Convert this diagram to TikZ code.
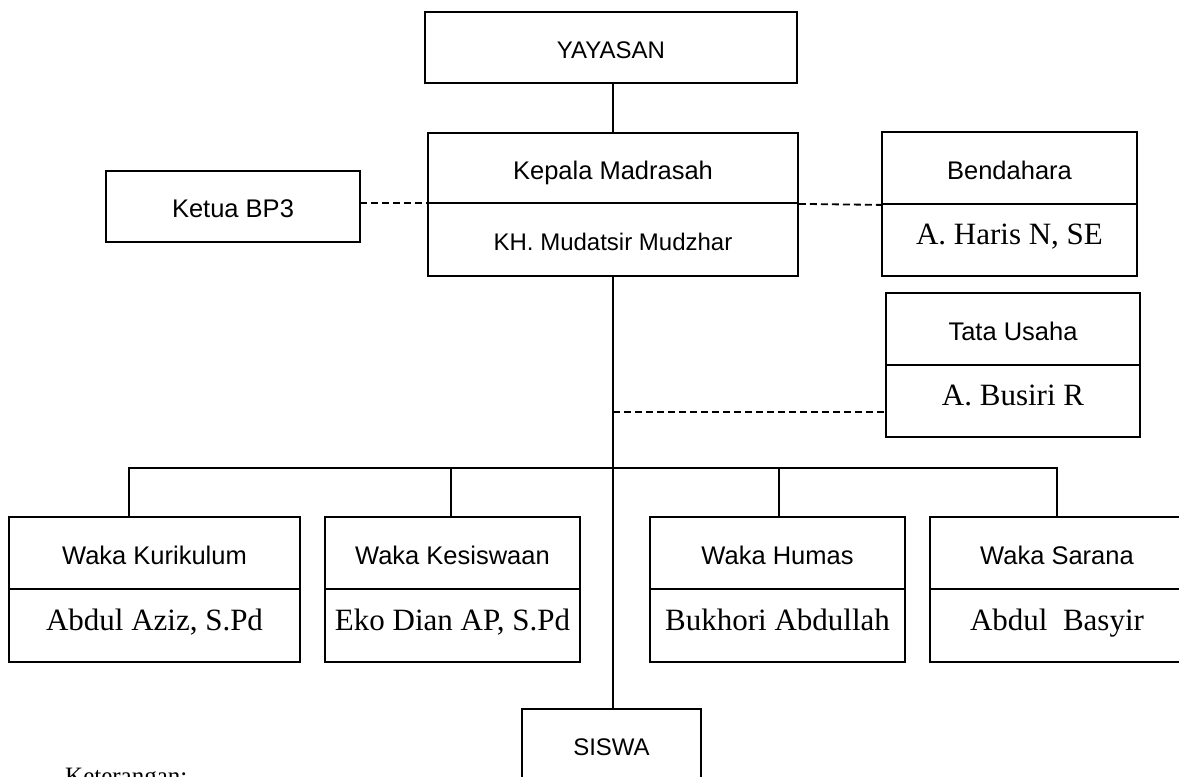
\documentclass[tikz,border=0pt]{standalone}
\usepackage{fontspec}
\setmainfont{Liberation Serif}
\setsansfont{Liberation Sans}
\begin{document}
\begin{tikzpicture}[x=1pt,y=-1pt,
  box/.style={draw=black,line width=1.8pt,rectangle,inner sep=0pt,align=center},
  lab/.style={box,font=\sffamily\fontsize{25.5}{28}\selectfont,text height=22pt,text depth=0pt},
  labs/.style={lab,font=\sffamily\fontsize{24}{27}\selectfont},
  nam/.style={box,font=\rmfamily\fontsize{31}{34}\selectfont,text height=9pt,text depth=0pt},
  conn/.style={line width=1.8pt,black},
  dsh/.style={line width=1.8pt,black,dash pattern=on 7pt off 4pt}]
\useasboundingbox (0,0) rectangle (1179,777);
\clip (0,0) rectangle (1179,777);
\fill[white] (0,0) rectangle (1179,777);

% top
\node[labs,minimum width=372pt,minimum height=71pt] (yay) at (611,47.5) {YAYASAN};
\node[lab,minimum width=370pt,minimum height=70pt] (kepTop) at (613,168) {Kepala Madrasah};
\node[labs,minimum width=370pt,minimum height=73pt,text height=21pt] (kepBot) at (613,239.5) {KH. Mudatsir Mudzhar};
\node[lab,minimum width=254pt,minimum height=71pt] (ketua) at (233,206.5) {Ketua BP3};
\node[lab,minimum width=255pt,minimum height=72pt] (bendTop) at (1009.5,168) {Bendahara};
\node[nam,minimum width=255pt,minimum height=72pt] (bendBot) at (1009.5,240) {A. Haris N, SE};
\node[lab,minimum width=254pt,minimum height=72pt] (tataTop) at (1013,329) {Tata Usaha};
\node[nam,minimum width=254pt,minimum height=72pt] (tataBot) at (1013,401) {A. Busiri R};

% waka row
\node[lab,minimum width=291pt,minimum height=72pt] (kurTop) at (154.5,553) {Waka Kurikulum};
\node[nam,minimum width=291pt,minimum height=73pt] (kurBot) at (154.5,625.5) {Abdul Aziz, S.Pd};
\node[lab,minimum width=255pt,minimum height=72pt] (kesTop) at (452.5,553) {Waka Kesiswaan};
\node[nam,minimum width=255pt,minimum height=73pt] (kesBot) at (452.5,625.5) {Eko Dian AP, S.Pd};
\node[lab,minimum width=255pt,minimum height=72pt] (humTop) at (777.5,553) {Waka Humas};
\node[nam,minimum width=255pt,minimum height=73pt] (humBot) at (777.5,625.5) {Bukhori Abdullah};
\node[lab,minimum width=254pt,minimum height=72pt] (sarTop) at (1057,553) {Waka Sarana};
\node[nam,minimum width=254pt,minimum height=73pt] (sarBot) at (1057,625.5) {Abdul\ \ Basyir};

\node[labs,minimum width=179pt,minimum height=76pt,text height=16pt] (siswa) at (611.5,747) {SISWA};

\node[anchor=base west,inner sep=0pt,font=\rmfamily\fontsize{25}{28}\selectfont] (ket) at (65,784.5) {Keterangan:};

% connectors
\draw[conn] (yay.south -| kepTop.north) -- (kepTop.north);
\draw[conn] (kepBot.south) -- (kepBot.south |- siswa.north);
\coordinate (bj) at (360,203);
\draw[dsh] (bj) -- (bj -| kepBot.west);
\draw[dsh] (kepTop.south east) -- (bendTop.south west);
\coordinate (tj) at (613,412);
\draw[dsh] (tj) -- (tj -| tataBot.west);
\coordinate (kurTick) at (129,468);
\draw[conn] (kurTop.north -| kurTick) -- (kurTick) -- (kurTick -| sarTop.north) -- (sarTop.north);
\draw[conn] (kesTop.north -| 451,0) -- (kurTick -| 451,0);
\draw[conn] (humTop.north -| 779,0) -- (kurTick -| 779,0);
\end{tikzpicture}
\end{document}
